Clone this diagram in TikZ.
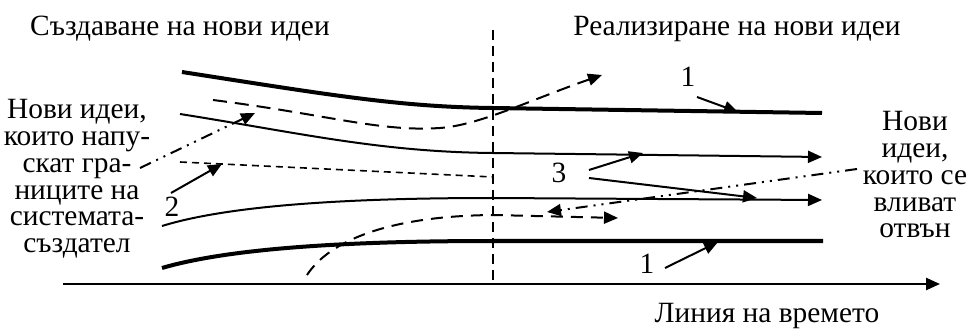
\documentclass[tikz,border=0pt]{standalone}
\usepackage{fontspec}
\setmainfont{Liberation Serif}
\usetikzlibrary{arrows.meta}
\tikzset{
  text base/.style={
    font=\fontsize{14.7}{13.4}\selectfont,
    inner sep=0pt,
  },
  block text/.style={
    text base,
    align=center,
    anchor=north,
  },
  digit/.style={
    text base,
    anchor=base,
  },
  thick flow/.style={line width=2pt},
  thin flow/.style={line width=1pt},
  dashed flow/.style={line width=1pt,dash pattern=on 7pt off 4pt},
  fine dashed/.style={line width=0.8pt,dash pattern=on 3.5pt off 2.5pt},
  dashdot flow/.style={line width=1pt,dash pattern=on 6pt off 3pt on 1pt off 3pt on 1pt off 3pt},
  border line/.style={line width=0.75pt,dash pattern=on 5pt off 3pt},
  arrow/.style={-{Triangle[length=7pt,width=6pt]}},
  pointer/.style={arrow,line width=1pt},
}

\begin{document}
\begin{tikzpicture}[x=0.5pt,y=-0.5pt]
\useasboundingbox (0,0) rectangle (968,331);

% Headings and time line.
\node[text base,anchor=base] (hleft) at (180,36) {Създаване на нови идеи};
\node[text base,anchor=base] (hright) at (737,36) {Реализиране на нови идеи};
\node[text base,anchor=base] (htime) at (767,322) {Линия на времето};

\coordinate (axisL) at (63,284);
\coordinate (axisR) at (940,284);
\draw[line width=1.2pt,arrow] (axisL) -- (axisR);

\coordinate (sepT) at (493,30);
\coordinate (sepB) at (493,283);
\draw[border line] (sepT) -- (sepB);

% Side notes.
\node[block text] (outgoing) at (77,99) {Нови идеи,\\които напу-\\скат гра-\\ниците на\\системата-\\създател};
\node[block text] (incoming) at (915,111) {Нови\\идеи,\\които се\\вливат\\отвън};

% Flows of ideas.
\draw[thick flow] (182,72) .. controls (330,95) and (400,107) .. (493,108) -- (822,113);
\draw[dashed flow,arrow] (213,100) .. controls (330,115) and (380,132) .. (440,128)
  .. controls (480,125) and (530,100) .. (602,75);
\draw[thin flow,arrow] (180,114) .. controls (300,133) and (380,152) .. (493,153) -- (822,157);
\draw[fine dashed] (180,162) -- (493,177);
\draw[thin flow,arrow] (162,226) .. controls (230,205) and (350,198) .. (493,198) -- (822,200);
\draw[thick flow] (162,268) .. controls (230,248) and (350,241) .. (493,241) -- (823,241);
\draw[dashed flow,dash pattern=on 6pt off 4pt,arrow] (307,275) .. controls (330,240) and (390,216) .. (493,215) -- (618,218);

% Ideas crossing the border.
\coordinate (outS) at (140,168);
\coordinate (outE) at (255,113);
\draw[dashdot flow,arrow] (outS) -- (outE);
\coordinate (inS) at (857,169);
\coordinate (inE) at (547,212);
\draw[dashdot flow,arrow] (inS) -- (inE);

% Numbered pointers.
\node[digit] (one top) at (688,87) {1};
\node[digit] (one bot) at (647,273) {1};
\node[digit] (two) at (172,217) {2};
\node[digit] (three) at (559,183) {3};

\coordinate (p1a) at (697,97);
\coordinate (t1a) at (738,112);
\coordinate (p1b) at (665,268);
\coordinate (t1b) at (718,242);
\coordinate (p2) at (171,193);
\coordinate (t2) at (222,164);
\coordinate (p3a) at (589,170);
\coordinate (t3a) at (643,153);
\coordinate (p3b) at (589,178);
\coordinate (t3b) at (757,198);

\foreach \a/\b in {p1a/t1a,p1b/t1b,p2/t2,p3a/t3a,p3b/t3b}
  \draw[pointer] (\a) -- (\b);

\end{tikzpicture}
\end{document}
